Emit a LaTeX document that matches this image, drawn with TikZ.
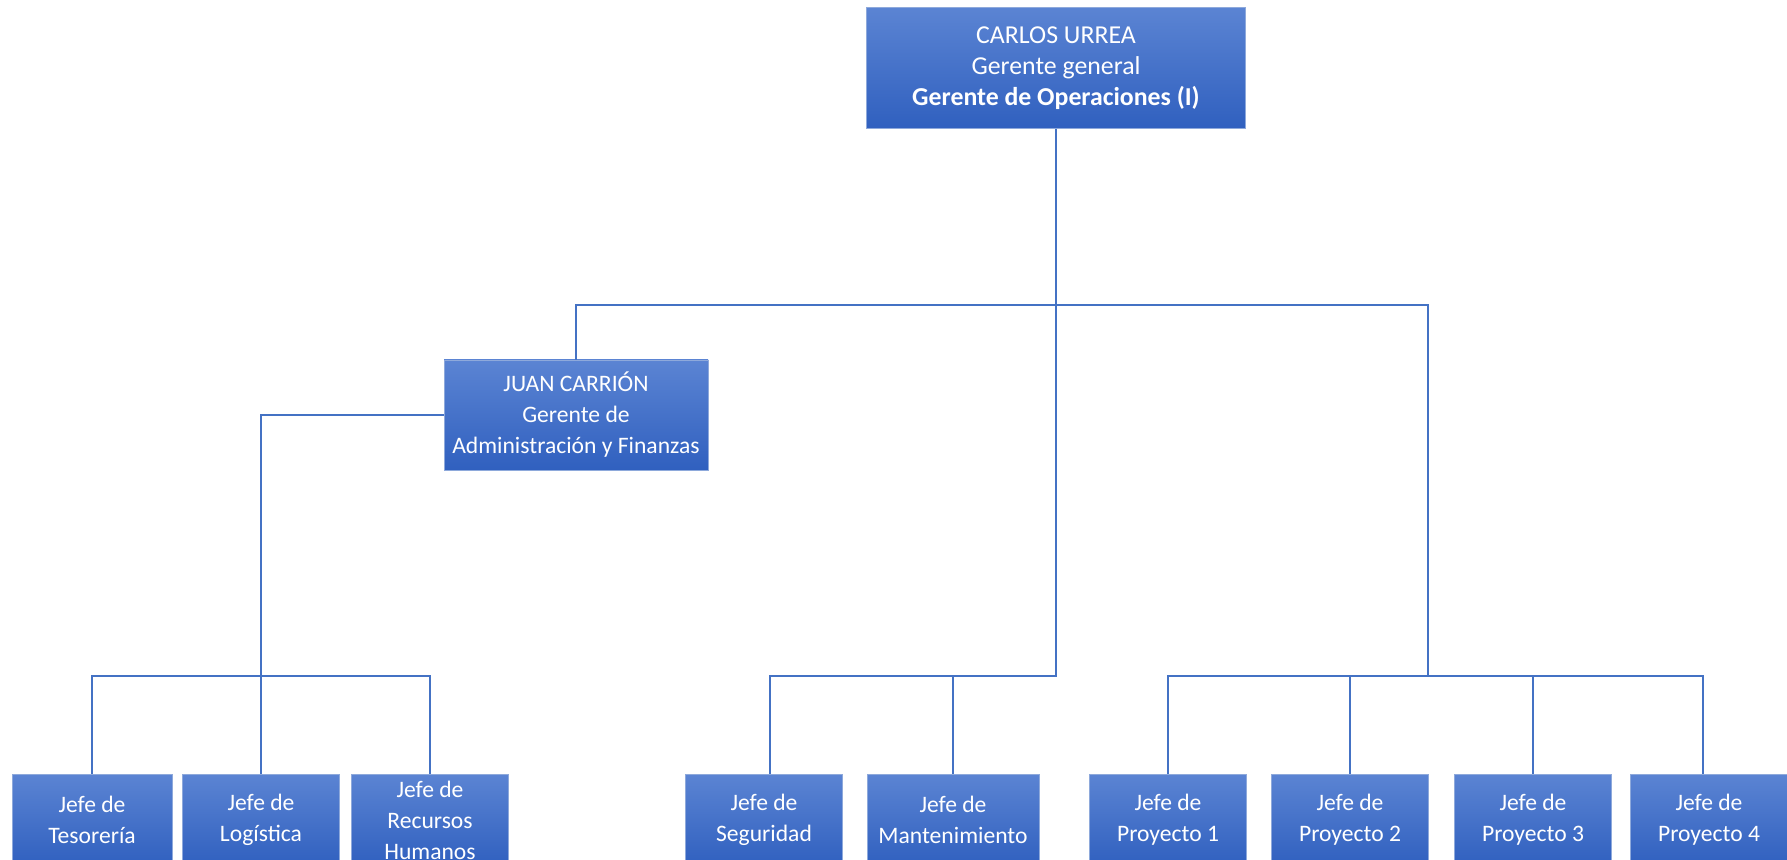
\documentclass[tikz,border=0pt]{standalone}
\usepackage{fontspec}
\setmainfont{Carlito}
\definecolor{boxtop}{HTML}{5B84D3}
\definecolor{boxbot}{HTML}{3060BF}
\definecolor{boxline}{HTML}{8EA9DB}
\definecolor{linkblue}{HTML}{4472C4}
\tikzset{
  orgbox/.style={rectangle, draw=boxline, line width=0.4pt, top color=boxtop, bottom color=boxbot,
    text=white, align=center, inner sep=0pt, font=\fontsize{11.8}{15.5}\selectfont},
  jefebox/.style={orgbox, minimum width=78.5pt, minimum height=46pt},
  link/.style={draw=linkblue, line width=0.8pt}
}
\begin{document}
\begin{tikzpicture}[x=0.5pt, y=-0.5pt]
\clip (0,0) rectangle (1787,860);
\useasboundingbox (0,0) rectangle (1787,860);

% Gerencias
\node[orgbox, minimum width=189.5pt, minimum height=60.5pt, font=\fontsize{12.9}{15.5}\selectfont] (ceo) at (1056,68)
  {CARLOS URREA\\Gerente general\\\textbf{Gerente de Operaciones (I)}};
\node[orgbox, minimum width=132pt, minimum height=55pt] (adm) at (576,415)
  {JUAN CARRIÓN\\Gerente de\\Administración y Finanzas};

% Jefaturas
\node[jefebox, minimum width=80pt] (tes) at (92,820) {Jefe de\\Tesorería};
\node[jefebox] (log) at (261,820) {Jefe de\\Logística};
\node[jefebox] (rrhh) at (430,820) {Jefe de\\Recursos\\Humanos};
\node[jefebox] (seg) at (764,820) {Jefe de\\Seguridad};
\node[jefebox, minimum width=86pt] (mant) at (953,820) {Jefe de\\Mantenimiento};
\node[jefebox] (p1) at (1168,820) {Jefe de\\Proyecto 1};
\node[jefebox] (p2) at (1350,820) {Jefe de\\Proyecto 2};
\node[jefebox] (p3) at (1533,820) {Jefe de\\Proyecto 3};
\node[jefebox] (p4) at (1709,820) {Jefe de\\Proyecto 4};

% Buses
\coordinate (busA) at (0,305);
\coordinate (busB) at (0,676);
\coordinate (rt) at (1428,305);

% Conexiones
\draw[link] (ceo.south) -- (ceo.south |- busB) -| ([xshift=3pt]seg.north);
\draw[link] (mant.north) -- (mant.north |- busB);
\draw[link] (adm.north) |- (rt) -- (rt |- busB);
\draw[link] (p1.north) |- ([xshift=-3pt]p4.north |- busB) -- ([xshift=-3pt]p4.north);
\draw[link] (p2.north) -- (p2.north |- busB);
\draw[link] (p3.north) -- (p3.north |- busB);
\draw[link] (adm.west) -| (log.north);
\draw[link] (tes.north) |- (rrhh.north |- busB) -- (rrhh.north);
\end{tikzpicture}
\end{document}
